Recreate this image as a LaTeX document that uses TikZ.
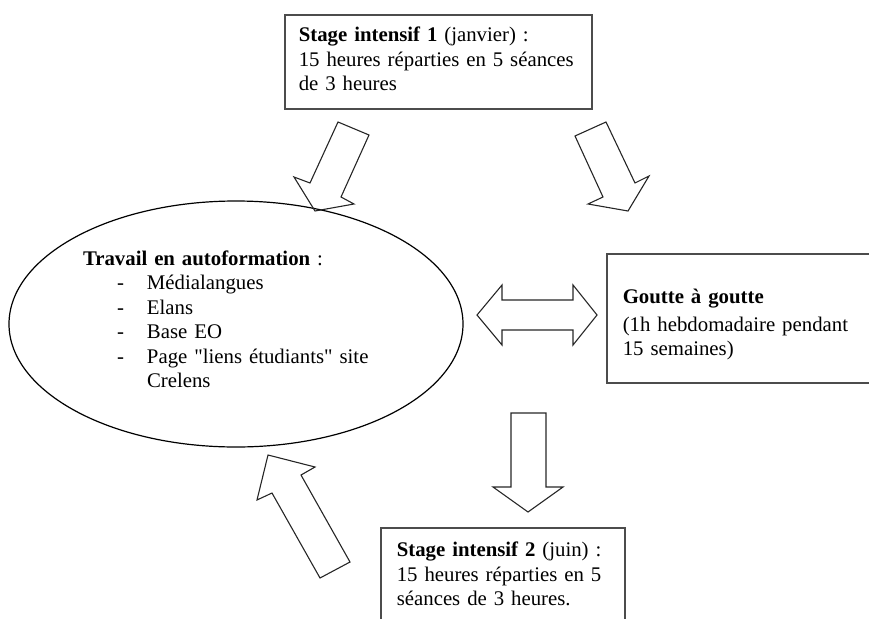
\documentclass[tikz,border=0pt]{standalone}
\usepackage{fontspec}
\setmainfont{Liberation Serif}[Ligatures=TeXOff]
\usepackage{tikz}
\usetikzlibrary{shapes.geometric}

\begin{document}
\begin{tikzpicture}[x=1pt, y=-1pt,
    every node/.style={font=\fontsize{20.8}{24.5}\selectfont},
    boite/.style={draw=black!70, line width=1.6pt, anchor=north west, align=left, inner ysep=0pt},
    fleche/.style={draw=black!85, line width=1.1pt, line join=miter}]
  \useasboundingbox (0,0) rectangle (869,618);
  \clip (0,0) rectangle (869,618);
  \node[boite, inner xsep=14pt, text width=279pt, text height=27pt, text depth=67pt] (stage1) at (284,14)
    {\textbf{Stage intensif 1} (janvier) :\\15 heures réparties en 5 séances\\de 3 heures};
  \node[ellipse, draw, line width=1.2pt, inner sep=0pt, minimum width=454pt, minimum height=246pt,
        text width=306pt, align=left, text height=20pt, text depth=138pt] (autoform) at (236,324)
    {\textbf{Travail en autoformation} :\\
     \hspace*{34pt}\makebox[30pt][l]{-}Médialangues\\
     \hspace*{34pt}\makebox[30pt][l]{-}Elans\\
     \hspace*{34pt}\makebox[30pt][l]{-}Base EO\\
     \hspace*{34pt}\makebox[30pt][l]{-}Page "liens étudiants" site\\
     \hspace*{64pt}Crelens};
  \node[boite, inner xsep=16pt, text width=300pt, text height=50pt, text depth=79pt] (goutte) at (606,253)
    {\textbf{Goutte à goutte}\\[3pt](1h hebdomadaire pendant\\15 semaines)};
  \node[boite, inner xsep=16pt, text width=212pt, text height=29pt, text depth=80pt] (stage2) at (380,527)
    {\textbf{Stage intensif 2} (juin) :\\15 heures réparties en 5\\séances de 3 heures.};
  \draw[fleche] (338,122) -- (369,135) -- (341,197) -- (354,204) -- (315,211) -- (294,177) -- (310,183) -- cycle;
  \draw[fleche] (575,136) -- (606,122) -- (635,183) -- (649,176) -- (628,211) -- (588,204) -- (603,197) -- cycle;
  \draw[fleche] (477,315) -- (502,285) -- (502,300) -- (573,300) -- (573,285) -- (597,315)
    -- (573,345) -- (573,330) -- (502,330) -- (502,345) -- cycle;
  \draw[fleche] (511,413) -- (546,413) -- (546,487) -- (563,487) -- (528,512) -- (493,487) -- (511,487) -- cycle;
  \draw[fleche] (320,578) -- (350,562) -- (301,475) -- (315,467) -- (268,455) -- (257,500) -- (272,493) -- cycle;
\end{tikzpicture}
\end{document}
